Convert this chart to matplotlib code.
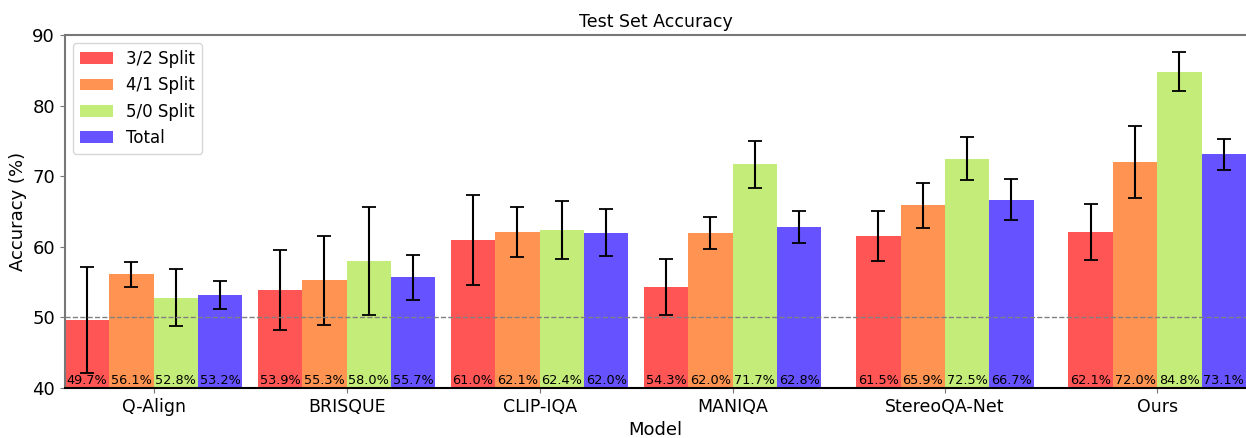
import numpy as np
import matplotlib
matplotlib.use("Agg")
from matplotlib import pyplot as plt

models = ["Q-Align", "BRISQUE", "CLIP-IQA", "MANIQA", "StereoQA-Net", "Ours"]
positions = [0, 1, 2, 3, 4.1, 5.2]

split32 = [49.7, 53.9, 61.0, 54.3, 61.5, 62.1]
split41 = [56.1, 55.3, 62.1, 62.0, 65.9, 72.0]
split50 = [52.8, 58.0, 62.4, 71.7, 72.5, 84.8]
total = [53.2, 55.7, 62.0, 62.8, 66.7, 73.1]

split32_err = [7.5, 5.7, 6.4, 4.0, 3.55, 3.95]
split41_err = [1.8, 6.3, 3.5, 2.25, 3.2, 5.1]
split50_err = [4.05, 7.6, 4.15, 3.35, 3.1, 2.75]
total_err = [1.95, 3.2, 3.3, 2.3, 2.95, 2.15]

labels = ["3/2 Split", "4/1 Split", "5/0 Split", "Total"]
colors = ["#ff5555", "#ff9452", "#c4ec78", "#6652ff"]

series = [split32, split41, split50, total]
errors = [split32_err, split41_err, split50_err, total_err]

fig = plt.figure(figsize=(12.46, 4.38), dpi=100)
ax = fig.add_axes([0.052, 0.114, 0.948, 0.806])

x = np.array(positions)
width = 0.23
offsets = [-1.5, -0.5, 0.5, 1.5]

for vals, errs, lab, col, off in zip(series, errors, labels, colors, offsets):
    xs = x + off * width
    ax.bar(xs, vals, width, color=col, label=lab,
           yerr=errs, capsize=5, error_kw=dict(elinewidth=1.5, capthick=1.3, ecolor="black"))
    for xi, v in zip(xs, vals):
        ax.text(xi, 40.2, f"{v:.1f}%", ha="center", va="bottom", fontsize=9.3)

ax.axhline(50, color="grey", linestyle="--", linewidth=1)

ax.set_ylim(40, 90)
ax.set_xlim(-2 * width, positions[-1] + 2 * width)
ax.set_xticks(x)
ax.set_xticklabels(models, fontsize=12.5)
ax.tick_params(axis="y", labelsize=13)
ax.set_xlabel("Model", fontsize=13)
ax.set_ylabel("Accuracy (%)", fontsize=13)
ax.set_title("Test Set Accuracy", fontsize=12.5)

for s in ["left", "top"]:
    ax.spines[s].set_color("#777777")
    ax.spines[s].set_linewidth(1.5)
ax.spines["right"].set_visible(False)
ax.spines["bottom"].set_linewidth(1.5)
ax.tick_params(axis="y", color="#777777")
ax.tick_params(axis="x", color="#777777")

ax.legend(loc="upper left", fontsize=12)

fig.savefig("out.png", dpi=100)
